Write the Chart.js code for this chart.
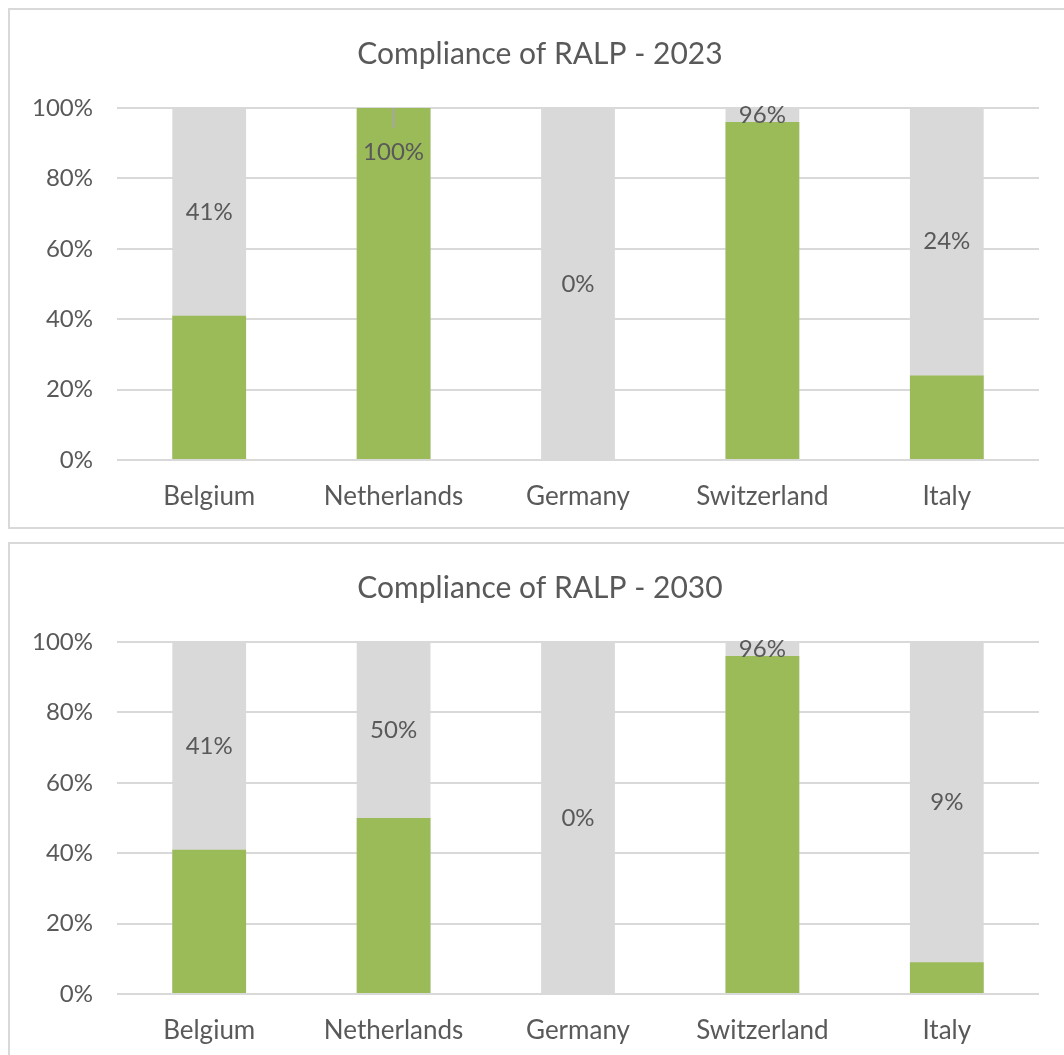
<!DOCTYPE html>
<html>
<head>
<meta charset="utf-8">
<script src="https://cdn.jsdelivr.net/npm/chart.js@4.4.1/dist/chart.umd.min.js"></script>
<style>
  body { margin: 0; background: #fff; overflow: hidden; }
  .box { position: absolute; left: 8px; width: 1060px; border: 2px solid #d9d9d9; box-sizing: border-box; background: #fff; }
  #box1 { top: 8px; height: 521px; }
  #box2 { top: 542px; height: 600px; }
  canvas { display: block; }
</style>
</head>
<body>
<div class="box" id="box1"><canvas id="chart2023" width="1054" height="516"></canvas></div>
<div class="box" id="box2"><canvas id="chart2030" width="1054" height="516"></canvas></div>
<script>
const countries = ['Belgium', 'Netherlands', 'Germany', 'Switzerland', 'Italy'];
const compliance2023 = [41, 100, 0, 96, 24];
const compliance2030 = [41, 50, 0, 96, 9];
const fullScale = [100, 100, 100, 100, 100];
const yTicks = [0, 20, 40, 60, 80, 100];

const FONT = 'Lato, "Open Sans", sans-serif';
const TEXT = '#595959';
const GREEN = '#9bbb59';
const GREY = '#d9d9d9';

// value labels sit in the middle of the grey part above each green bar
const valueLabels = {
  id: 'valueLabels',
  afterDatasetsDraw(chart) {
    const ctx = chart.ctx;
    const y = chart.scales.y;
    const meta = chart.getDatasetMeta(0);
    const values = chart.data.datasets[0].data;
    const top = y.getPixelForValue(100);
    ctx.save();
    ctx.font = '24px ' + FONT;
    ctx.fillStyle = TEXT;
    ctx.textAlign = 'center';
    ctx.textBaseline = 'middle';
    values.forEach((v, i) => {
      const x = meta.data[i].x;
      const yv = y.getPixelForValue(v);
      let cy = (top + yv) / 2;
      if (yv - top < 4) {
        // no room above a full bar: move the label down with a short leader
        cy = top + 44;
        ctx.strokeStyle = '#a6a6a6';
        ctx.lineWidth = 2;
        ctx.beginPath();
        ctx.moveTo(x, top);
        ctx.lineTo(x, top + 20);
        ctx.stroke();
      }
      ctx.fillText(v + '%', x, cy);
    });
    ctx.restore();
  }
};

function makeChart(id, title, values) {
  return new Chart(document.getElementById(id), {
    type: 'bar',
    data: {
      labels: countries,
      datasets: [
        { label: 'Compliant', data: values, backgroundColor: GREEN, order: 0,
          barPercentage: 0.4, categoryPercentage: 1 },
        { label: 'Total', data: fullScale, backgroundColor: GREY, order: 1,
          barPercentage: 0.4, categoryPercentage: 1 }
      ]
    },
    options: {
      responsive: false,
      animation: false,
      layout: { padding: { top: 0, left: 6, right: 0, bottom: 0 } },
      plugins: {
        legend: { display: false },
        tooltip: { enabled: false },
        title: {
          display: true,
          text: title,
          color: TEXT,
          font: { family: FONT, size: 30, weight: 'normal' },
          padding: { top: 26, bottom: 36 }
        }
      },
      scales: {
        x: {
          stacked: true,
          grid: { display: false },
          border: { display: false },
          ticks: { color: TEXT, font: { family: FONT, size: 26 }, padding: 13, maxRotation: 0 },
          afterFit(scale) { scale.height = 66; }
        },
        y: {
          stacked: false,
          min: 0,
          max: 100,
          afterBuildTicks(scale) { scale.ticks = yTicks.map(v => ({ value: v })); },
          grid: { color: GREY, lineWidth: 2, drawTicks: false },
          border: { display: false },
          ticks: { color: TEXT, font: { family: FONT, size: 24 }, padding: 24,
                   callback: v => v + '%' },
          afterFit(scale) { scale.width = 101; }
        },
        // empty strip on the right so the title stays centred on the whole box
        spacer: {
          type: 'linear',
          position: 'right',
          grid: { display: false },
          border: { display: false },
          ticks: { display: false },
          afterFit(scale) { scale.width = 25; }
        }
      }
    },
    plugins: [valueLabels]
  });
}

makeChart('chart2023', 'Compliance of RALP - 2023', compliance2023);
makeChart('chart2030', 'Compliance of RALP - 2030', compliance2030);
</script>
</body>
</html>
